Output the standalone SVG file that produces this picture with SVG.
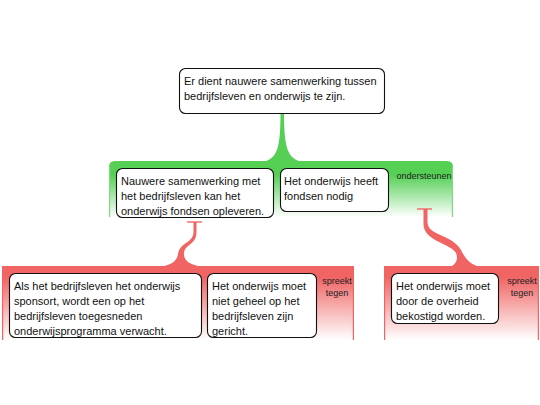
<svg xmlns="http://www.w3.org/2000/svg" width="540" height="405" viewBox="0 0 540 405">
<defs>
<linearGradient id="gG" x1="0" y1="0" x2="0" y2="1">
<stop offset="0" stop-color="#55d055"/>
<stop offset="0.25" stop-color="#55d055"/>
<stop offset="1" stop-color="#ffffff"/>
</linearGradient>
<linearGradient id="gR" x1="0" y1="0" x2="0" y2="1">
<stop offset="0" stop-color="#f06464"/>
<stop offset="0.15" stop-color="#f06464"/>
<stop offset="1" stop-color="#ffffff"/>
</linearGradient>
</defs>
<style>
.box{fill:#fff;stroke:#111;stroke-width:1.1}
.t{font-family:"Liberation Sans",Arial,sans-serif;font-size:11px;fill:#111}
.lbl{font-family:"Liberation Sans",Arial,sans-serif;font-size:9px;fill:#222}
.gedge{stroke:#7ddc7d;stroke-width:1.2;fill:none}
.redge{stroke:#f06464;stroke-width:1.2;fill:none}
.bar{stroke:#f07070;stroke-width:1.5}
</style>
<g id="bands">
<path d="M109,217 L109,167 Q109,161 115,161 L447,161 Q453,161 453,167 L453,217 Z" fill="url(#gG)"/>
<path class="gedge" d="M109.6,217 L109.6,167"/>
<path class="gedge" d="M452.4,217 L452.4,167"/>
<rect x="2" y="266" width="352" height="74" fill="url(#gR)"/>
<path class="redge" d="M2.6,266 L2.6,340 M353.4,266 L353.4,340"/>
<rect x="384" y="266" width="155" height="74" fill="url(#gR)"/>
<path class="redge" d="M384.6,266 L384.6,340 M538.4,266 L538.4,340"/>
</g>
<g id="connectors">
<path d="M280.5,113 L284,113 C284,148 288,157 299,161 L266,161 C277,157 280.5,148 280.5,113 Z" fill="#55d055"/>
<line class="bar" x1="187" y1="222" x2="202" y2="222"/>
<path d="M193.5,222 L196.5,222 L196.5,232 C196.5,246 183,244 184,255 C185,262 191,264 198,266 L164,266 C172,264 177,261 178,254 C180,242 193.5,243 193.5,232 Z" fill="#f06464"/>
<line class="bar" x1="417" y1="209" x2="432" y2="209"/>
<path d="M423.5,209 L427.5,209 L427.5,222 C427.5,236 452,234 461,250 C465,258 469,263 477,266 L452,266 C457,263 458,258 456,253 C450,243 423.5,241 423.5,224 Z" fill="#f06464"/>
</g>
<g id="n0">
<rect class="box" x="179.5" y="68.5" width="205" height="45" rx="6"/>
<text class="t" x="184" y="85">Er dient nauwere samenwerking tussen</text>
<text class="t" x="184" y="100">bedrijfsleven en onderwijs te zijn.</text>
</g>
<g id="n1">
<rect class="box" x="116.5" y="168.5" width="157" height="49" rx="6"/>
<text class="t" x="121" y="184.5">Nauwere samenwerking met</text>
<text class="t" x="121" y="200">het bedrijfsleven kan het</text>
<text class="t" x="121" y="215">onderwijs fondsen opleveren.</text>
</g>
<g id="n2">
<rect class="box" x="280.5" y="168.5" width="108" height="43" rx="6"/>
<text class="t" x="284" y="184.5">Het onderwijs heeft</text>
<text class="t" x="284" y="200">fondsen nodig</text>
</g>
<g id="l1">
<text class="lbl" x="424" y="179" text-anchor="middle">ondersteunen</text>
</g>
<g id="n3">
<rect class="box" x="9.5" y="273.5" width="192" height="64" rx="6"/>
<text class="t" x="14" y="290">Als het bedrijfsleven het onderwijs</text>
<text class="t" x="14" y="305">sponsort, wordt een op het</text>
<text class="t" x="14" y="320">bedrijfsleven toegesneden</text>
<text class="t" x="14" y="335">onderwijsprogramma verwacht.</text>
</g>
<g id="n4">
<rect class="box" x="207.5" y="273.5" width="109" height="64" rx="6"/>
<text class="t" x="212" y="290">Het onderwijs moet</text>
<text class="t" x="212" y="305">niet geheel op het</text>
<text class="t" x="212" y="320">bedrijfsleven zijn</text>
<text class="t" x="212" y="335">gericht.</text>
</g>
<g id="l2">
<text class="lbl" x="337" y="284" text-anchor="middle">spreekt</text>
<text class="lbl" x="337" y="296" text-anchor="middle">tegen</text>
</g>
<g id="n5">
<rect class="box" x="391.5" y="273.5" width="107" height="50" rx="6"/>
<text class="t" x="396" y="290">Het onderwijs moet</text>
<text class="t" x="396" y="305">door de overheid</text>
<text class="t" x="396" y="320">bekostigd worden.</text>
</g>
<g id="l3">
<text class="lbl" x="522" y="284" text-anchor="middle">spreekt</text>
<text class="lbl" x="522" y="296" text-anchor="middle">tegen</text>
</g>
</svg>
